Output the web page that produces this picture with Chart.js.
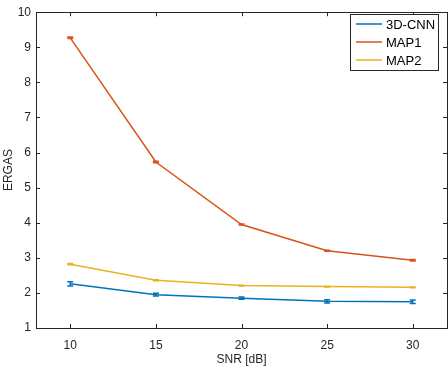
<!DOCTYPE html>
<html>
<head>
<meta charset="utf-8">
<script src="https://cdn.jsdelivr.net/npm/chart.js@4/dist/chart.umd.min.js"></script>
<style>
  html, body { margin: 0; padding: 0; background: #fff; }
  #wrap { width: 448px; height: 372px; }
</style>
</head>
<body>
<div id="wrap"><canvas id="ergasChart" width="448" height="372"></canvas></div>
<script>
// SNR values (x) and ERGAS per method
const snr = [10, 15, 20, 25, 30];
const xTicks = [10, 15, 20, 25, 30];
const yTicks = [1, 2, 3, 4, 5, 6, 7, 8, 9, 10];

const cnn3d = [2.26, 1.95, 1.85, 1.76, 1.75];
const map1 = [9.27, 5.73, 3.95, 3.2, 2.93];
const map2 = [2.82, 2.36, 2.21, 2.18, 2.16];

// half-length of the error bars
const cnn3dErr = [0.06, 0.04, 0.03, 0.045, 0.05];
const map1Err = [0.02, 0.02, 0.015, 0.015, 0.02];
const map2Err = [0.02, 0.015, 0.01, 0.01, 0.01];

const axisColor = "#262626";
const fontFamily = "'Liberation Sans', Arial, sans-serif";

function toPoints(values) {
  return snr.map((x, i) => ({ x: x, y: values[i] }));
}

// error bars drawn through the scales
const errorBarPlugin = {
  id: "errorBars",
  afterDatasetsDraw(chart) {
    const ctx = chart.ctx;
    const xs = chart.scales.x;
    const ys = chart.scales.y;
    chart.data.datasets.forEach((ds) => {
      if (!ds.errors) return;
      ctx.save();
      ctx.strokeStyle = ds.borderColor;
      ctx.lineWidth = 1.5;
      ds.data.forEach((p, i) => {
        const px = xs.getPixelForValue(p.x);
        const top = ys.getPixelForValue(p.y + ds.errors[i]);
        const bot = ys.getPixelForValue(p.y - ds.errors[i]);
        ctx.beginPath();
        ctx.moveTo(px, top);
        ctx.lineTo(px, bot);
        ctx.moveTo(px - 3, top);
        ctx.lineTo(px + 3, top);
        ctx.moveTo(px - 3, bot);
        ctx.lineTo(px + 3, bot);
        ctx.stroke();
      });
      ctx.restore();
    });
  },
};

// MATLAB style box with inward ticks
const boxTicksPlugin = {
  id: "boxTicks",
  afterDraw(chart) {
    const ctx = chart.ctx;
    const a = chart.chartArea;
    const xs = chart.scales.x;
    const ys = chart.scales.y;
    const len = 4;
    ctx.save();
    ctx.strokeStyle = axisColor;
    ctx.lineWidth = 1;
    ctx.strokeRect(Math.round(a.left) + 0.5, Math.round(a.top) + 0.5,
      Math.round(a.right - a.left), Math.round(a.bottom - a.top));
    ctx.beginPath();
    xTicks.forEach((v) => {
      const px = Math.round(xs.getPixelForValue(v)) + 0.5;
      ctx.moveTo(px, a.bottom);
      ctx.lineTo(px, a.bottom - len);
      ctx.moveTo(px, a.top);
      ctx.lineTo(px, a.top + len);
    });
    yTicks.forEach((v) => {
      const py = Math.round(ys.getPixelForValue(v)) + 0.5;
      ctx.moveTo(a.left, py);
      ctx.lineTo(a.left + len, py);
      ctx.moveTo(a.right, py);
      ctx.lineTo(a.right - len, py);
    });
    ctx.stroke();
    ctx.restore();
  },
};

// legend box in the top right corner
const legendBoxPlugin = {
  id: "legendBox",
  afterDraw(chart) {
    const ctx = chart.ctx;
    const bx = 350, by = 14, bw = 88, bh = 56;
    const rows = [24, 42, 60];
    ctx.save();
    ctx.fillStyle = "#fff";
    ctx.fillRect(bx, by, bw, bh);
    ctx.strokeStyle = axisColor;
    ctx.lineWidth = 1;
    ctx.strokeRect(bx + 0.5, by + 0.5, bw, bh);
    ctx.font = "13px " + fontFamily;
    ctx.textBaseline = "middle";
    chart.data.datasets.forEach((ds, i) => {
      const y = rows[i];
      ctx.strokeStyle = ds.borderColor;
      ctx.lineWidth = 1.5;
      ctx.beginPath();
      ctx.moveTo(356, y);
      ctx.lineTo(382, y);
      ctx.stroke();
      ctx.fillStyle = "#000";
      ctx.fillText(ds.label, 386, y + 1);
    });
    ctx.restore();
  },
};

new Chart(document.getElementById("ergasChart"), {
  type: "line",
  data: {
    datasets: [
      {
        label: "3D-CNN",
        data: toPoints(cnn3d),
        errors: cnn3dErr,
        borderColor: "#0072BD",
        borderWidth: 1.5,
        pointRadius: 0,
        tension: 0,
      },
      {
        label: "MAP1",
        data: toPoints(map1),
        errors: map1Err,
        borderColor: "#D95319",
        borderWidth: 1.5,
        pointRadius: 0,
        tension: 0,
      },
      {
        label: "MAP2",
        data: toPoints(map2),
        errors: map2Err,
        borderColor: "#EDB120",
        borderWidth: 1.5,
        pointRadius: 0,
        tension: 0,
      },
    ],
  },
  options: {
    responsive: false,
    animation: false,
    layout: {
      padding: { top: 4, right: 1, left: 0, bottom: 0 },
    },
    plugins: {
      legend: { display: false },
      tooltip: { enabled: false },
    },
    scales: {
      x: {
        type: "linear",
        min: 8,
        max: 32,
        afterBuildTicks: (scale) => {
          scale.ticks = xTicks.map((v) => ({ value: v }));
        },
        afterFit: (scale) => {
          scale.height = 44;
        },
        grid: { display: false, drawTicks: false },
        border: { display: false },
        ticks: {
          color: axisColor,
          padding: 10,
          font: { size: 12, family: fontFamily },
          maxRotation: 0,
        },
        title: {
          display: true,
          text: "SNR [dB]",
          color: axisColor,
          padding: { top: 0, bottom: 5 },
          font: { size: 12, family: fontFamily },
        },
      },
      y: {
        min: 1,
        max: 10,
        afterBuildTicks: (scale) => {
          scale.ticks = yTicks.map((v) => ({ value: v }));
        },
        afterFit: (scale) => {
          scale.width = 36;
        },
        grid: { display: false, drawTicks: false },
        border: { display: false },
        ticks: {
          color: axisColor,
          padding: 5,
          font: { size: 12, family: fontFamily },
        },
        title: {
          display: true,
          text: "ERGAS",
          color: axisColor,
          padding: { top: 1, bottom: 0 },
          font: { size: 12, family: fontFamily },
        },
      },
    },
  },
  plugins: [errorBarPlugin, boxTicksPlugin, legendBoxPlugin],
});
</script>
</body>
</html>
